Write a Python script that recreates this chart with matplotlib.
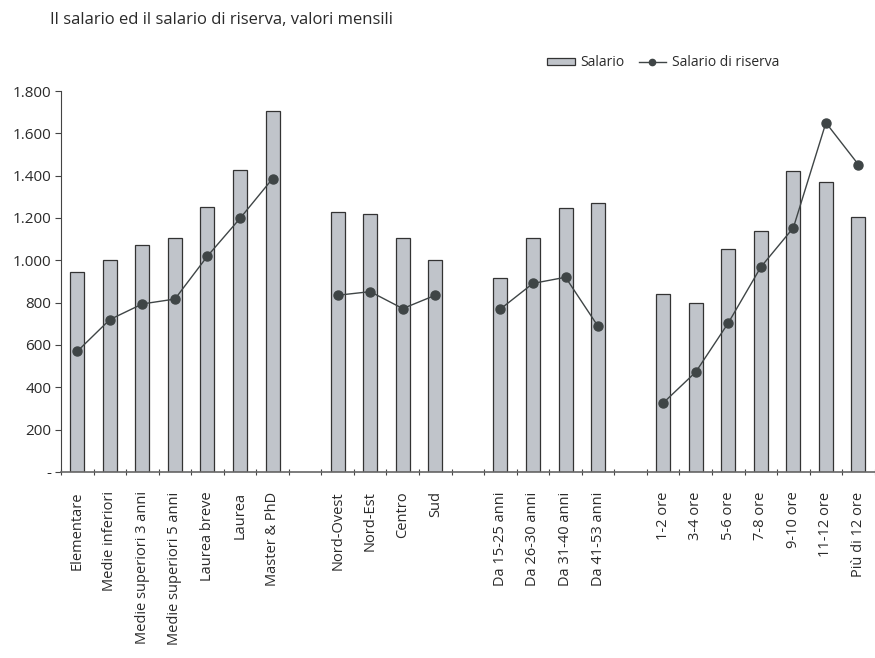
import matplotlib.pyplot as plt
from matplotlib.ticker import FuncFormatter
from matplotlib.lines import Line2D
from matplotlib.patches import Patch

plt.rcParams['font.family'] = ['Open Sans', 'DejaVu Sans']

# categorie (stringa vuota = spazio tra i gruppi)
categorie = ['Elementare', 'Medie inferiori', 'Medie superiori 3 anni',
             'Medie superiori 5 anni', 'Laurea breve', 'Laurea', 'Master & PhD',
             '',
             'Nord-Ovest', 'Nord-Est', 'Centro', 'Sud',
             '',
             'Da 15-25 anni', 'Da 26-30 anni', 'Da 31-40 anni', 'Da 41-53 anni',
             '',
             '1-2 ore', '3-4 ore', '5-6 ore', '7-8 ore', '9-10 ore',
             '11-12 ore', 'Più di 12 ore']

salario = [945, 1000, 1074, 1104, 1250, 1428, 1707,
           None,
           1227, 1219, 1104, 1001,
           None,
           915, 1107, 1249, 1272,
           None,
           839, 800, 1052, 1140, 1422, 1368, 1206]

salario_riserva = [570, 720, 794, 817, 1020, 1198, 1386,
                   None,
                   835, 852, 772, 835,
                   None,
                   770, 891, 920, 688,
                   None,
                   326, 472, 704, 968, 1154, 1650, 1452]

fig = plt.figure(figsize=(8.75, 6.58), dpi=100)
ax = fig.add_axes([0.0697, 0.2827, 0.93, 0.579])

bar_col = '#c0c4ca'
line_col = '#3f4546'
txt_col = '#2a2a2a'

x = list(range(len(categorie)))
for i, v in enumerate(salario):
    if v is not None:
        ax.bar(i, v, width=0.43, color=bar_col, edgecolor='#333333', linewidth=0.9)

# linea del salario di riserva, spezzata tra i gruppi
seg_x, seg_y = [], []
for i, v in enumerate(salario_riserva + [None]):
    if v is None:
        if seg_x:
            ax.plot(seg_x, seg_y, color=line_col, lw=1.0, marker='o',
                    markersize=6.5, markerfacecolor=line_col, markeredgecolor=line_col)
        seg_x, seg_y = [], []
    else:
        seg_x.append(i)
        seg_y.append(v)

ax.set_xlim(-0.5, len(categorie) - 0.5)
ax.set_ylim(0, 1800)
ax.set_yticks(range(0, 1801, 200))
ax.yaxis.set_major_formatter(FuncFormatter(
    lambda v, p: '-' if v == 0 else f'{int(v):,}'.replace(',', '.')))

ax.set_xticks([i + 0.5 for i in range(-1, len(categorie))], minor=False)
ax.set_xticklabels([])
ax.set_xticks(x, minor=True)
ax.set_xticklabels(categorie, minor=True, rotation=90, fontsize=10.5, va='top',
                   color=txt_col)
ax.tick_params(axis='x', which='major', direction='inout', length=5, width=0.8, color='#444444')
ax.tick_params(axis='x', which='minor', length=0, pad=14)
ax.tick_params(axis='y', direction='out', length=4, width=0.8, color='#444444',
               labelsize=11, pad=3, labelcolor=txt_col)

for s in ['top', 'right']:
    ax.spines[s].set_visible(False)
ax.spines['left'].set_color('#444444')
ax.spines['bottom'].set_color('#666666')
ax.spines['bottom'].set_linewidth(1.2)

fig.text(0.057, 0.969, 'Il salario ed il salario di riserva, valori mensili',
         fontsize=12, va='center', ha='left', color=txt_col)

handles = [Patch(facecolor=bar_col, edgecolor='#333333', linewidth=0.9),
           Line2D([], [], color=line_col, lw=1.0, marker='o', markersize=4.5)]
fig.legend(handles, ['Salario', 'Salario di riserva'], ncol=2, frameon=False,
           loc='center', bbox_to_anchor=(0.758, 0.905), fontsize=10,
           handlelength=2.0, handleheight=0.4, handletextpad=0.4, columnspacing=1.0,
           labelcolor=txt_col)

fig.savefig('out.png', dpi=100)
